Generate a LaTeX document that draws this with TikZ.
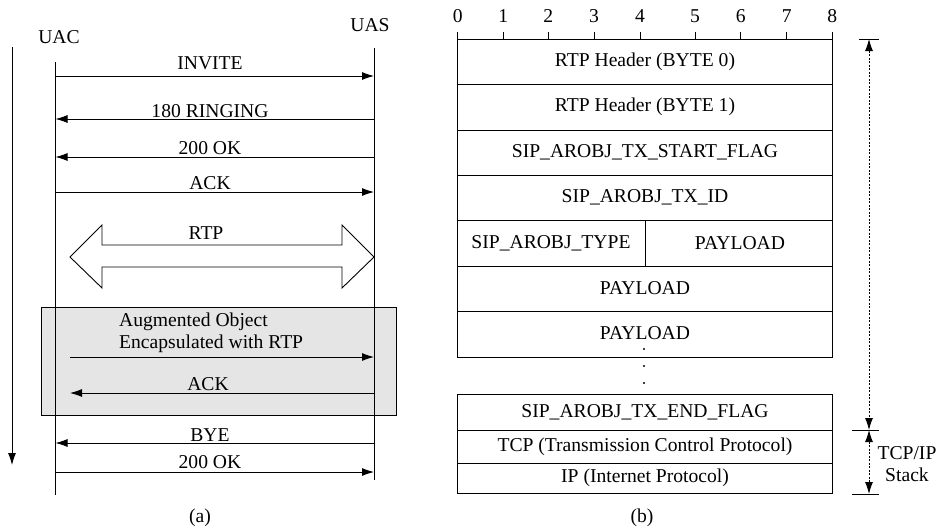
\documentclass[tikz,border=0pt]{standalone}
\usepackage{fontspec}
\setmainfont{Liberation Serif}
\usetikzlibrary{arrows.meta}
\begin{document}
\begin{tikzpicture}[x=1pt,y=-1pt,
  lbl/.style={inner sep=0pt,font=\fontsize{19.6}{22}\selectfont},
  msg/.style={line width=0.9pt,-{Latex[length=12pt,width=8pt]}},
  life/.style={line width=0.9pt},
  cell/.style={draw,line width=0.9pt},
  dim/.style={line width=0.9pt,dash pattern=on 2pt off 1.5pt}]
\useasboundingbox (0,0) rectangle (940,531);
% ---------- (a) ----------
% gray box
\draw[fill=black!10,line width=0.9pt] (41,307) rectangle (396,415);
% time arrow
\coordinate (t0) at (12,47);
\coordinate (t1) at (12,465);
\draw[msg] (t0) -- (t1);
% lifelines
\node[lbl] (uac) at (59,37) {UAC};
\node[lbl] (uas) at (370,25) {UAS};
\coordinate (uacT) at (55.5,62);
\coordinate (uacB) at (55.5,495);
\coordinate (uasT) at (374,48);
\coordinate (uasB) at (374,480);
\draw[life] (uacT) -- (uacB);
\draw[life] (uasT) -- (uasB);
% messages
\foreach \y/\dir/\txt/\ly/\nm in {76/r/INVITE/63/m1, 119/l/180 RINGING/111/m2, 157/l/200 OK/148/m3, 192/r/ACK/183/m4, 443/l/BYE/435/m5, 472/r/200 OK/462/m6}{
  \coordinate (\nm a) at (55.5,\y);
  \coordinate (\nm b) at (374,\y);
  \node[lbl] (\nm) at (210,\ly) {\txt};
  \if\dir r
    \draw[msg] (\nm a) -- (\nm b);
  \else
    \draw[msg] (\nm b) -- (\nm a);
  \fi
}
% RTP double arrow
\draw[line width=0.9pt,fill=white] (70,257) -- (102,225) -- (102,245) -- (342,245) -- (342,225) -- (374,257) -- (342,288) -- (342,267) -- (102,267) -- (102,288) -- cycle;
\node[lbl] (rtp) at (206,233) {RTP};
% augmented object
\node[lbl,anchor=west] (ao1) at (119,322) {Augmented Object};
\node[lbl,anchor=west] (ao2) at (119,344) {Encapsulated with RTP};
\coordinate (ob1) at (70,357);
\coordinate (ob2) at (374,357);
\draw[msg] (ob1) -- (ob2);
\node[lbl] (ack2) at (208,384) {ACK};
\coordinate (ac1) at (374,393);
\coordinate (ac2) at (70,393);
\draw[msg] (ac1) -- (ac2);
\node[lbl] (capa) at (200,518) {(a)};
% ---------- (b) ----------
% ruler
\draw[line width=0.9pt] (457.7,39) -- (832.3,39);
\foreach \x/\n in {457.7/0,503.3/1,548.3/2,594/3,640/4,695/5,740.7/6,786.7/7,832.3/8}{
  \draw[line width=0.9pt] (\x,39) -- (\x,31.5);
  \node[lbl] (r\n) at (\x,16.5) {\n};
}
% rows
\draw[cell] (457.7,39) rectangle (832.3,84.5);
\node[lbl] (b0) at (645,62) {RTP Header (BYTE 0)};
\draw[cell] (457.7,84.5) rectangle (832.3,130);
\node[lbl] (b1) at (645,107) {RTP Header (BYTE 1)};
\draw[cell] (457.7,130) rectangle (832.3,175);
\node[lbl] (b2) at (645,152.5) {SIP\_AROBJ\_TX\_START\_FLAG};
\draw[cell] (457.7,175) rectangle (832.3,220);
\node[lbl] (b3) at (645,197.5) {SIP\_AROBJ\_TX\_ID};
\draw[cell] (457.7,220) rectangle (645,266);
\draw[cell] (645,220) rectangle (832.3,266);
\node[lbl] (b4a) at (551,243) {SIP\_AROBJ\_TYPE};
\node[lbl] (b4b) at (740,243) {PAYLOAD};
\draw[cell] (457.7,266) rectangle (832.3,311.5);
\node[lbl] (b5) at (645,288.5) {PAYLOAD};
\draw[cell] (457.7,311.5) rectangle (832.3,357);
\node[lbl] (b6) at (645,333.5) {PAYLOAD};
\foreach \y in {349,366,383}{\fill (644,\y) circle (1.2pt);}
\draw[cell] (457.7,394) rectangle (832.3,430);
\node[lbl] (b7) at (645,412) {SIP\_AROBJ\_TX\_END\_FLAG};
\draw[cell] (457.7,430) rectangle (832.3,463.3);
\node[lbl] (b8) at (645,446.5) {TCP (Transmission Control Protocol)};
\draw[cell] (457.7,463.3) rectangle (832.3,493.3);
\node[lbl] (b9) at (645,478) {IP (Internet Protocol)};
% dimension lines
\coordinate (d0) at (869,39);
\coordinate (d1) at (869,430);
\coordinate (d2) at (869,494);
\draw[line width=0.9pt] (859,39) -- (879,39);
\draw[line width=0.9pt] (852,430) -- (879,430);
\draw[line width=0.9pt] (852,494) -- (879,494);
\draw[dim,{Latex[length=12pt,width=8pt]}-{Latex[length=12pt,width=8pt]}] (d0) -- (d1);
\draw[dim,{Latex[length=12pt,width=8pt]}-{Latex[length=12pt,width=8pt]}] (d1) -- (d2);
\node[lbl] (tcpip) at (907,453) {TCP/IP};
\node[lbl] (stack) at (907,475) {Stack};
\node[lbl] (capb) at (642,518) {(b)};
\end{tikzpicture}
\end{document}
